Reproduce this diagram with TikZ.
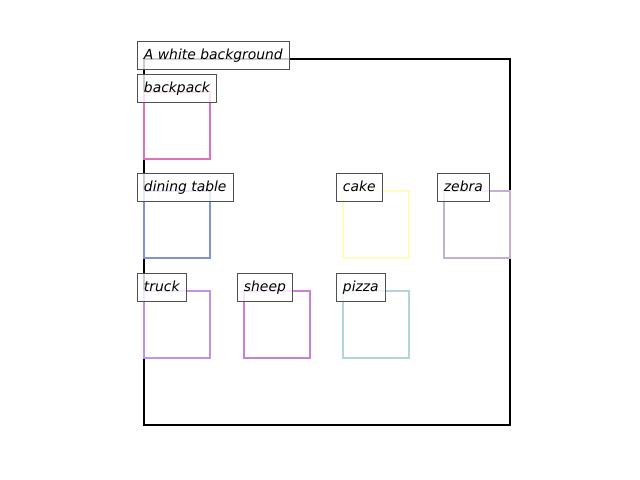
\documentclass[tikz,border=0pt]{standalone}
\usepackage{fontspec}
\setmainfont{DejaVu Sans}
\definecolor{packpink}{RGB}{224,112,184}
\definecolor{tableblue}{RGB}{127,147,219}
\definecolor{cakeyellow}{RGB}{255,250,192}
\definecolor{zebramauve}{RGB}{195,176,205}
\definecolor{truckviolet}{RGB}{192,144,236}
\definecolor{sheeporchid}{RGB}{200,128,216}
\definecolor{pizzateal}{RGB}{176,214,214}
\definecolor{tagedge}{RGB}{80,80,80}
\tikzset{
  tag/.style={draw=tagedge, line width=0.7pt, fill=white, fill opacity=0.8,
    text opacity=1, inner xsep=5pt, inner ysep=4.7pt, outer sep=0pt,
    text height=8pt, text depth=2.6pt, anchor=base west,
    font=\itshape\fontsize{10pt}{12pt}\selectfont},
  objbox/.style={line width=1.6pt}
}
\begin{document}
\begin{tikzpicture}[x=0.72pt, y=-0.72pt]
\useasboundingbox (0,0) rectangle (640,480);
% Draw the outer frame
  \draw[line width=1.6pt, black] (144,59) rectangle (510,425);

  % Draw object boxes
  \foreach \x/\y/\c in {144/92/packpink, 144/191/tableblue, 343/191/cakeyellow,
      444/191/zebramauve, 144/291/truckviolet, 244/291/sheeporchid,
      343/291/pizzateal}
    \draw[objbox, \c] (\x,\y) rectangle ++(66,67);

  % Labels
  \node[tag] (bg) at (137,59) {A white background};
  \foreach \x/\y/\n/\t in {137/92/backpack/backpack, 137/191/table/dining table,
      336/191/cake/cake, 437/191/zebra/zebra, 137/291/truck/truck,
      237/291/sheep/sheep, 336/291/pizza/pizza}
    \node[tag] (\n) at (\x,\y) {\t};
\end{tikzpicture}
\end{document}
